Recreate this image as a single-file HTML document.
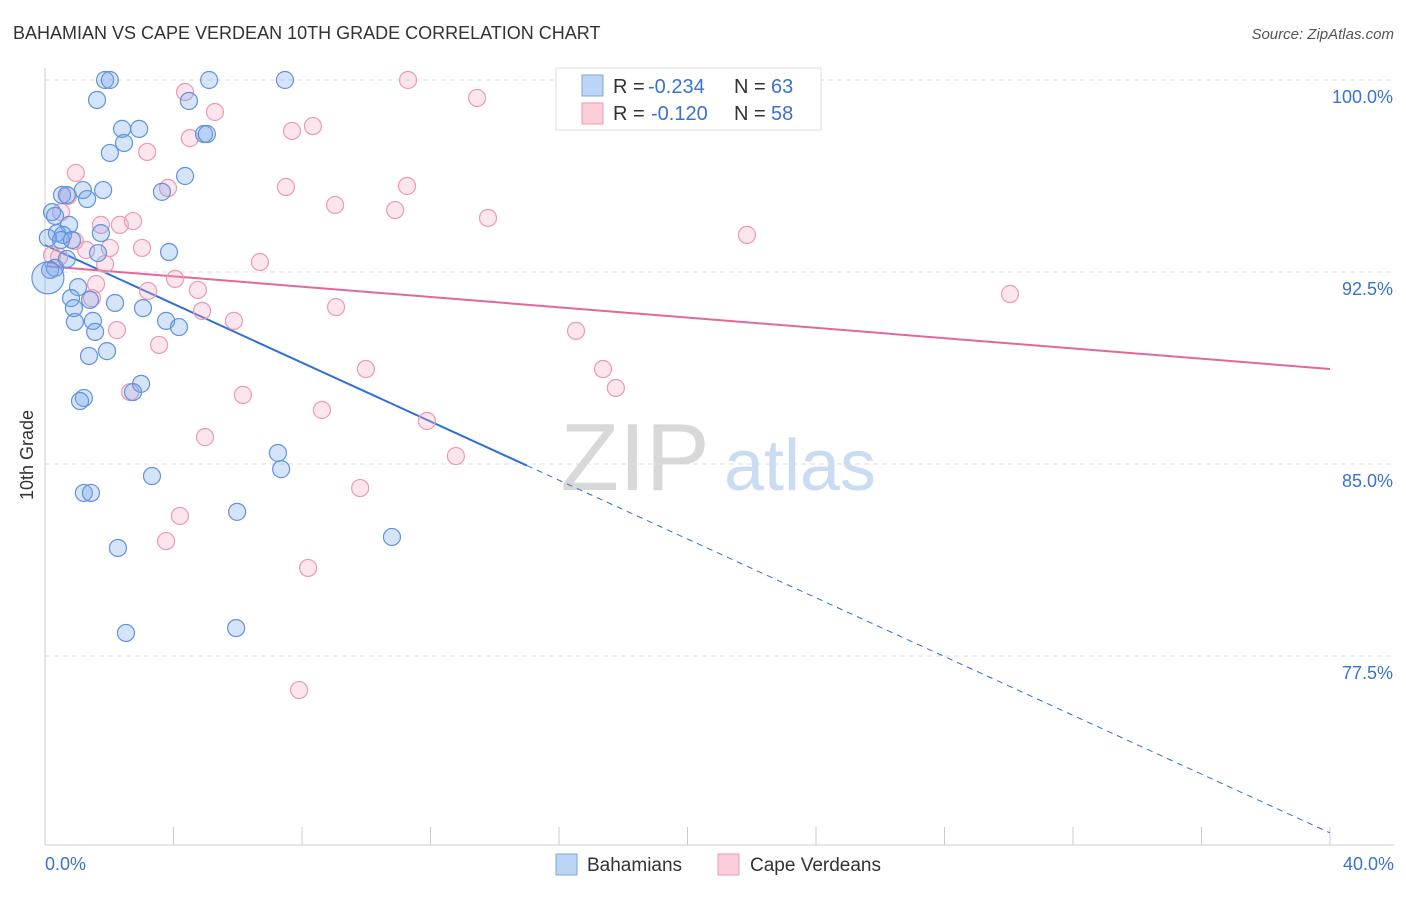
<!DOCTYPE html>
<html><head><meta charset="utf-8"><style>
body{margin:0;background:#fff;font-family:"Liberation Sans",sans-serif;}
svg text{font-family:"Liberation Sans",sans-serif;}
</style></head><body>
<svg id="chart" width="1406" height="892" xmlns="http://www.w3.org/2000/svg">
<text x="13" y="39" font-size="18" fill="#333">BAHAMIAN VS CAPE VERDEAN 10TH GRADE CORRELATION CHART</text>
<text x="1394" y="39" font-size="15" fill="#555" text-anchor="end" font-style="italic">Source: ZipAtlas.com</text>
<text transform="translate(33,455) rotate(-90)" font-size="18" fill="#333" text-anchor="middle">10th Grade</text>
<g>
<text x="635" y="490" font-size="96" fill="#d8d8d8" text-anchor="middle" font-family="Liberation Serif,serif">ZIP</text>
<text x="800" y="490" font-size="72" fill="#c9dcf3" text-anchor="middle">atlas</text>
</g>
<g id="grid"></g><g id="axes"></g><g id="trends"></g><g id="points"></g>
<g>
<rect x="556" y="68" width="265" height="62" fill="#fff" stroke="#ddd"/>
<rect x="582" y="75" width="21" height="21" fill="#bcd5f5" stroke="#7aa7e2"/>
<text x="613" y="93" font-size="20" fill="#333">R = </text><text x="648" y="93" font-size="20" fill="#3a72d0">-0.234</text>
<text x="734" y="93" font-size="20" fill="#333">N = </text><text x="771" y="93" font-size="20" fill="#3a72d0">63</text>
<rect x="582" y="103" width="21" height="21" fill="#fbcdd9" stroke="#ee9ab5"/>
<text x="613" y="120" font-size="20" fill="#333">R = </text><text x="651" y="120" font-size="20" fill="#3a72d0">-0.120</text>
<text x="734" y="120" font-size="20" fill="#333">N = </text><text x="771" y="120" font-size="20" fill="#3a72d0">58</text>
</g>
<g>
<rect x="556" y="854" width="21" height="21" fill="#bcd5f5" stroke="#7aa7e2"/>
<text x="587" y="871" font-size="19" fill="#333">Bahamians</text>
<rect x="718" y="854" width="21" height="21" fill="#fbcdd9" stroke="#ee9ab5"/>
<text x="750" y="871" font-size="19" fill="#333">Cape Verdeans</text>
</g>
</svg>
<script>
const xTicks=[0,4,8,12,16,20,24,28,32,36,40];
const yTicks=[77.5,85,92.5,100];
const yTickLabels=["77.5%","85.0%","92.5%","100.0%"];
const xEndLabels=["0.0%","40.0%"];
const blueX=[1.87,2.02,5.11,7.47,1.62,4.48,2.40,2.93,4.95,5.04,2.46,2.02,4.36,0.53,0.68,1.18,1.81,3.64,1.31,0.22,0.31,0.75,0.37,0.56,0.09,1.74,0.50,0.84,1.65,3.86,0.68,0.31,0.16,1.03,0.81,1.40,2.18,3.05,0.90,0.93,1.49,3.77,4.17,1.56,1.93,1.37,2.99,2.74,1.21,1.09,7.25,7.35,3.33,1.21,1.43,5.98,10.80,2.27,2.52,5.95,0.09];
const blueY=[100,100,100,100,99.22,99.18,98.09,98.09,97.89,97.89,97.54,97.15,96.25,95.51,95.51,95.70,95.70,95.63,95.35,94.84,94.69,94.34,94.02,93.95,93.83,94.02,93.75,93.75,93.24,93.28,93.01,92.66,92.58,91.91,91.48,91.41,91.29,91.09,91.09,90.55,90.59,90.59,90.35,90.16,89.41,89.22,88.13,87.81,87.58,87.46,85.43,84.80,84.53,83.87,83.87,83.13,82.15,81.72,78.40,78.59,92.27];
const pinkX=[11.30,4.36,13.45,5.29,8.34,7.69,4.51,3.18,0.96,7.50,11.27,3.83,0.72,9.03,10.90,13.79,21.85,0.50,1.74,2.33,2.74,0.93,2.02,3.02,1.28,0.22,0.44,1.87,6.69,4.05,1.59,3.21,4.76,1.46,30.04,9.06,4.89,5.88,2.24,16.53,3.55,9.99,17.37,17.77,2.65,6.16,8.62,11.89,4.98,12.79,9.81,4.20,3.77,8.19,7.91];
const pinkY=[100,99.53,99.30,98.75,98.20,98.01,97.73,97.19,96.37,95.82,95.86,95.78,95.47,95.12,94.92,94.61,93.95,94.84,94.34,94.34,94.49,93.71,93.44,93.44,93.36,93.16,93.09,92.81,92.89,92.23,92.03,91.76,91.80,91.48,91.64,91.13,90.98,90.59,90.23,90.20,89.65,88.71,88.71,87.97,87.81,87.70,87.11,86.68,86.05,85.31,84.06,82.97,81.99,80.94,76.17];
const blueTrend=[93.55,-0.574];
const pinkTrend=[92.73,-0.1005];
const blueSolidEnd=15;
const NS="http://www.w3.org/2000/svg";
const X=v=>45+v*32.125, Y=v=>80+(100-v)*25.6;
function mk(tag,attrs,parent){const e=document.createElementNS(NS,tag);for(const k in attrs)e.setAttribute(k,attrs[k]);parent.appendChild(e);return e;}
const grid=document.getElementById('grid'),axes=document.getElementById('axes');
yTicks.forEach((t,i)=>{
 const l=mk('line',{x1:45,x2:1394,y1:Y(t),y2:Y(t),stroke:'#ddd','stroke-dasharray':'5,4'},grid);
 
 
 const tx=mk('text',{x:1393,y:Y(t)+23,'font-size':18,fill:'#3a72d0','text-anchor':'end'},axes);
 tx.textContent=yTickLabels[i];
 
 
});
const yl=mk('line',{x1:45,x2:45,y1:68,y2:845,stroke:'#ccc'},axes);


const xl=mk('line',{x1:45,x2:1394,y1:845,y2:845,stroke:'#ccc'},axes);


xTicks.forEach(t=>{const l=mk('line',{x1:X(t),x2:X(t),y1:827,y2:845,stroke:'#ccc'},axes);
 
 });
[[0,'start',45],[40,'end',1394]].forEach((d,i)=>{const t=mk('text',{x:d[2],y:870,'font-size':18,fill:'#3a72d0','text-anchor':d[1]},axes);t.textContent=xEndLabels[i];
 
 });
const pts=document.getElementById('points');
function draw(xs,ys,fill,stroke,name){xs.forEach((x,i)=>{const big=(i===xs.length-1&&name==='bahamian-point');
 const c=mk('circle',{cx:X(x),cy:Y(ys[i]),r:big?16:8.5,fill:fill,stroke:stroke,'stroke-width':1.2},pts);
 
 });}
draw(pinkX,pinkY,'rgba(246,170,195,0.3)','#ea9ab5','cape-verdean-point');
draw(blueX,blueY,'rgba(120,165,235,0.3)','#5f93dc','bahamian-point');
const tr=document.getElementById('trends');
const f=(t,x)=>t[0]+t[1]*x;
const b1=mk('line',{x1:X(0),y1:Y(f(blueTrend,0)),x2:X(blueSolidEnd),y2:Y(f(blueTrend,blueSolidEnd)),stroke:'#2f6fd8','stroke-width':2},tr);


const b2=mk('line',{x1:X(blueSolidEnd),y1:Y(f(blueTrend,blueSolidEnd)),x2:X(40),y2:Y(f(blueTrend,40)),stroke:'#2f6fd8','stroke-width':1,'stroke-dasharray':'6,5'},tr);


const p1=mk('line',{x1:X(0),y1:Y(f(pinkTrend,0)),x2:X(40),y2:Y(f(pinkTrend,40)),stroke:'#e4679a','stroke-width':2},tr);


</script>
</body></html>
